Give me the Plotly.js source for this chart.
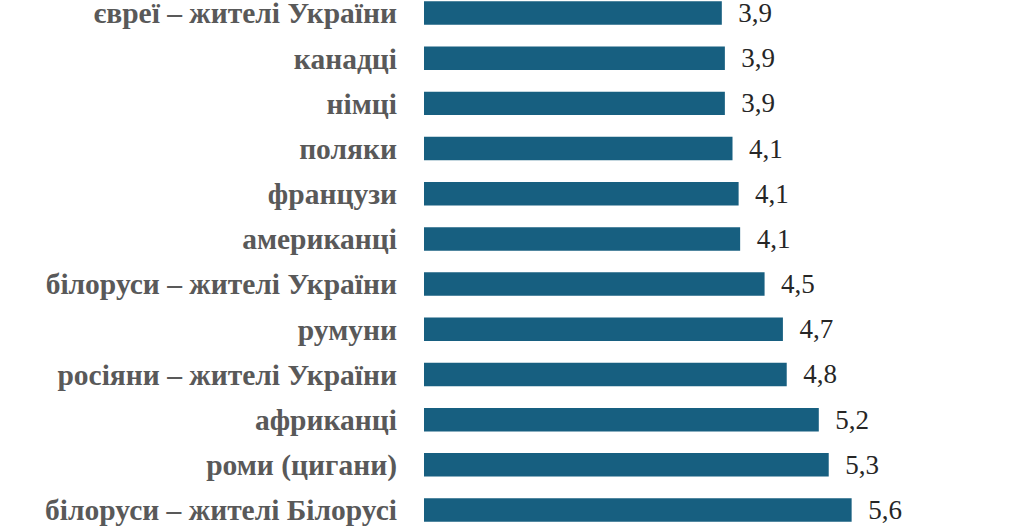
<!DOCTYPE html>
<html>
<head>
<meta charset="utf-8">
<script src="https://cdn.plot.ly/plotly-3.0.1.min.js"></script>
<style>
  html, body { margin: 0; padding: 0; background: #fff; }
  #chart { width: 1012px; height: 532px; }
</style>
</head>
<body>
<div id="chart"></div>
<script>
// top to bottom, as in the picture
const groups = [
  "євреї – жителі України",
  "канадці",
  "німці",
  "поляки",
  "французи",
  "американці",
  "білоруси – жителі України",
  "румуни",
  "росіяни – жителі України",
  "африканці",
  "роми (цигани)",
  "білоруси – жителі Білорусі"
];
const scores = [3.90, 3.94, 3.94, 4.04, 4.12, 4.14, 4.46, 4.70, 4.75, 5.17, 5.30, 5.60];
const scoreLabels = ["3,9", "3,9", "3,9", "4,1", "4,1", "4,1", "4,5", "4,7", "4,8", "5,2", "5,3", "5,6"];

const serif = "Liberation Serif, Times New Roman, serif";

Plotly.newPlot("chart", [{
  type: "bar",
  orientation: "h",
  y: groups,
  x: scores,
  text: scoreLabels.map(s => "  " + s),
  textposition: "outside",
  constraintext: "none",
  cliponaxis: false,
  textfont: { family: serif, size: 27, color: "#262626" },
  marker: { color: "#175f80" },
  hoverinfo: "skip",
}], {
  width: 1012,
  height: 532,
  margin: { l: 424, r: 0, t: 0, b: 0 },
  paper_bgcolor: "#fff",
  plot_bgcolor: "#fff",
  showlegend: false,
  bargap: 0.48,
  xaxis: { range: [0, 7.7], visible: false, fixedrange: true },
  yaxis: {
    type: "category",
    categoryorder: "array",
    categoryarray: groups,
    range: [11.487, -0.288],
    showgrid: false, zeroline: false, showline: false,
    ticks: "", ticklabelstandoff: 26,
    tickfont: { family: serif, size: 29.5, color: "#595959", weight: "bold" },
  },
  font: { family: serif },
}, { displayModeBar: false, staticPlot: true });
</script>
</body>
</html>
